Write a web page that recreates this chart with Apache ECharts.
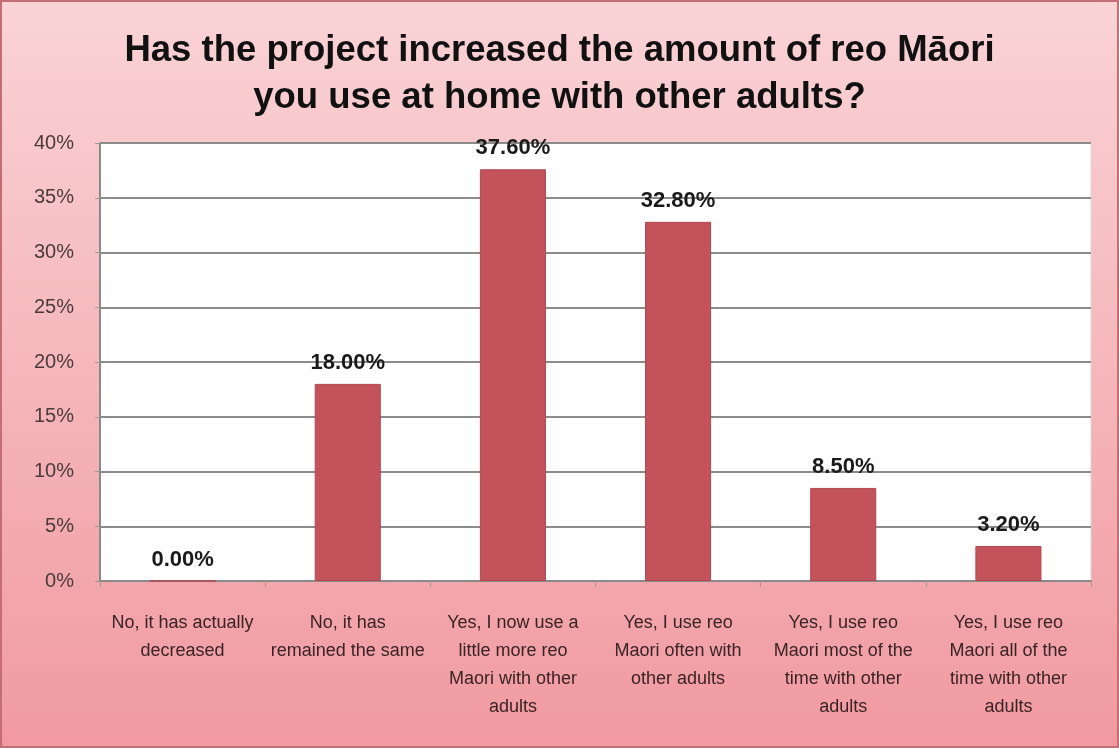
<!DOCTYPE html>
<html>
<head>
<meta charset="utf-8">
<script src="https://cdn.jsdelivr.net/npm/echarts@6/dist/echarts.min.js"></script>
<style>
  html, body { margin: 0; padding: 0; }
  #chart { width: 1119px; height: 748px; }
</style>
</head>
<body>
<div id="chart"></div>
<script>
// Survey answers and their share of respondents (%)
const categories = [
  'No, it has actually\ndecreased',
  'No, it has\nremained the same',
  'Yes, I now use a\nlittle more reo\nMaori with other\nadults',
  'Yes, I use reo\nMaori often with\nother adults',
  'Yes, I use reo\nMaori most of the\ntime with other\nadults',
  'Yes, I use reo\nMaori all of the\ntime with other\nadults'
];
const shares = [0.0, 18.0, 37.6, 32.8, 8.5, 3.2];
const titleText = 'Has the project increased the amount of reo Māori\nyou use at home with other adults?';

const fontStack = 'Liberation Sans, Arial, sans-serif';

const chart = echarts.init(document.getElementById('chart'));
chart.setOption({
  backgroundColor: {
    type: 'linear', x: 0, y: 0, x2: 0, y2: 1,
    colorStops: [
      { offset: 0, color: '#fad3d6' },
      { offset: 1, color: '#f09aa0' }
    ]
  },
  title: {
    text: titleText,
    left: 'center',
    top: 22,
    textStyle: {
      fontFamily: fontStack,
      fontWeight: 'bold',
      fontSize: 36.5,
      lineHeight: 47,
      color: '#111'
    }
  },
  graphic: [{
    type: 'rect',
    shape: { x: 1, y: 1, width: 1117, height: 746 },
    style: { fill: 'none', stroke: '#c46d75', lineWidth: 2 },
    silent: true
  }],
  grid: {
    left: 100, right: 28, top: 143, bottom: 167,
    show: true,
    backgroundColor: '#ffffff',
    borderColor: '#d8d8d8',
    borderWidth: 1
  },
  xAxis: {
    type: 'category',
    data: categories,
    axisLine: { lineStyle: { color: '#8a8a8a', width: 2 } },
    axisTick: { show: true, length: 6, lineStyle: { color: '#9a9a9a' } },
    axisLabel: {
      interval: 0,
      margin: 28,
      fontFamily: fontStack,
      fontSize: 18,
      lineHeight: 28,
      color: '#3a2326'
    }
  },
  yAxis: {
    type: 'value',
    min: 0, max: 40, interval: 5,
    axisLine: { show: true, lineStyle: { color: '#8a8a8a', width: 2 } },
    axisTick: { show: true, length: 5, lineStyle: { color: '#9a9a9a' } },
    splitLine: { lineStyle: { color: '#8c8c8c', width: 2 } },
    axisLabel: {
      formatter: '{value}%',
      margin: 26,
      fontFamily: fontStack,
      fontSize: 20,
      color: '#4a3a3c'
    }
  },
  series: [{
    type: 'bar',
    data: shares,
    barWidth: '40%',
    itemStyle: { color: '#c4525a', borderColor: '#b04850', borderWidth: 1 },
    label: {
      show: true,
      position: 'top',
      distance: 10,
      formatter: p => p.value.toFixed(2) + '%',
      fontFamily: fontStack,
      fontWeight: 'bold',
      fontSize: 22,
      color: '#1a1a1a'
    }
  }]
});
</script>
</body>
</html>
